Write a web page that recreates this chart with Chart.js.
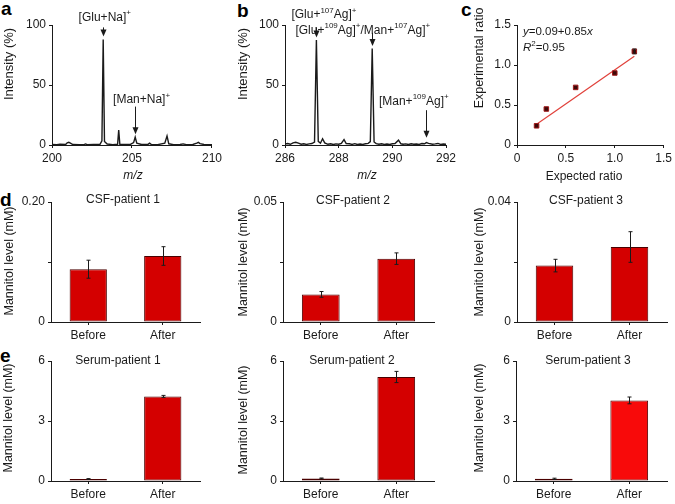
<!DOCTYPE html>
<html>
<head>
<meta charset="utf-8">
<script src="https://cdn.jsdelivr.net/npm/chart.js@4.4.1/dist/chart.umd.min.js"></script>
<style>
  html, body { margin: 0; padding: 0; background: #fff; }
  #fig { position: relative; width: 675px; height: 504px; overflow: hidden; font-family: "Liberation Sans", Arial, sans-serif; }
  #fig canvas { position: absolute; }
  .tag { position: absolute; font-weight: bold; font-size: 19px; line-height: 1; color: #000; }
</style>
</head>
<body>
<div id="fig">
  <div class="tag" style="left:1px;top:-1px">a</div>
  <div class="tag" style="left:237px;top:1px">b</div>
  <div class="tag" style="left:461px;top:0px">c</div>
  <div class="tag" style="left:0px;top:190px">d</div>
  <div class="tag" style="left:0px;top:346px">e</div>
</div>
<script>
// --- spectrum a: [Glu/Man + Na]+ region
const mzA = [200.0, 200.3, 200.5, 200.85, 200.95, 201.05, 201.15, 201.3, 201.7, 202.0, 202.1, 202.2, 202.6,
  203.0, 203.12, 203.2, 203.28, 203.45, 203.8, 204.1, 204.17, 204.24, 204.5, 204.9, 205.1, 205.2, 205.3,
  205.6, 206.0, 206.1, 206.2, 206.6, 207.05, 207.19, 207.3, 207.6, 208.0, 208.2, 208.4, 208.8, 209.05,
  209.15, 209.25, 209.5, 210.0];
const intA = [0.4, 0.3, 0.6, 0.4, 1.8, 2.2, 1.6, 0.4, 0.3, 0.3, 0.9, 0.3, 0.4,
  0.6, 3.5, 88, 3.0, 0.8, 0.3, 0.6, 12.5, 0.6, 0.4, 0.5, 2.0, 6.5, 1.5,
  0.4, 0.5, 1.5, 0.5, 0.3, 1.5, 7.5, 1.0, 0.3, 0.4, 0.9, 0.3, 0.4, 1.5,
  2.2, 1.2, 0.4, 0.3];

// --- spectrum b: Ag adduct region
const mzB = [286.0, 286.1, 286.2, 286.3, 286.4, 286.5, 286.6, 286.7, 286.8, 286.9, 287.0, 287.1,
  287.17, 287.24, 287.32, 287.4, 287.48, 287.6, 287.7, 287.8, 287.9, 288.0, 288.1, 288.2, 288.28,
  288.4, 288.5, 288.6, 288.7, 288.8, 288.9, 289.0, 289.1, 289.18, 289.25, 289.32, 289.4, 289.5,
  289.6, 289.7, 289.8, 289.9, 290.0, 290.1, 290.23, 290.32, 290.4, 290.5, 290.6, 290.7, 290.8,
  290.9, 291.0, 291.1, 291.2, 291.27, 291.35, 291.5, 291.6, 291.7, 291.8, 291.9, 292.0];
const intB = [0.8, 1.2, 0.6, 1.8, 2.3, 1.5, 0.7, 1.0, 0.5, 0.9, 1.2, 2.5,
  87.5, 3.0, 1.5, 5.2, 1.8, 0.6, 1.0, 0.4, 0.9, 0.6, 1.3, 4.5, 1.2,
  1.0, 0.5, 1.1, 0.4, 0.8, 0.5, 1.0, 1.4, 2.8, 80.5, 2.5, 1.2, 0.6,
  1.0, 0.5, 0.8, 0.4, 1.0, 1.2, 4.0, 1.0, 0.6, 0.9, 0.4, 1.0, 0.6,
  0.8, 0.5, 1.2, 1.0, 2.0, 1.4, 0.6, 0.9, 1.3, 0.5, 0.8, 0.6];

// --- calibration (c)
const ratioExpected = [0.2, 0.3, 0.6, 1.0, 1.2];
const ratioMeasured = [0.24, 0.45, 0.72, 0.9, 1.17];
const ratioErr = [0, 0, 0, 0, 0.03];
const fitX = [0.2, 1.2];
const fitY = [0.26, 1.11];

// --- mannitol levels (d, e)
const groups = ['Before', 'After'];
const csf1 = [0.088, 0.110], csf1Err = [0.015, 0.0155];
const csf2 = [0.0115, 0.0264], csf2Err = [0.0012, 0.0024];
const csf3 = [0.0188, 0.025], csf3Err = [0.0021, 0.0051];
const serum1 = [0.1, 4.23], serum1Err = [0.02, 0.05];
const serum2 = [0.13, 5.2], serum2Err = [0.02, 0.28];
const serum3 = [0.11, 4.03], serum3Err = [0.03, 0.17];
const csfMax = [0.20, 0.05, 0.04];
const serumMax = 6;

const FONT = '"Liberation Sans", Arial, sans-serif';
const INK = '#1a1a1a';
Chart.defaults.font.family = FONT;
Chart.defaults.font.size = 12;
Chart.defaults.color = INK;
Chart.defaults.animation = false;

const zip = (xs, ys) => xs.map((x, i) => ({ x, y: ys[i] }));
const T = t => ({ t }), S = t => ({ t, sup: true }), I = t => ({ t, it: true });

function fontFor(p, size) {
  return (p.it ? 'italic ' : '') + (p.sup ? Math.round(size * 0.66) : size) + 'px ' + FONT;
}

function drawParts(ctx, parts, x, y, size, align) {
  let w = 0;
  parts.forEach(p => { ctx.font = fontFor(p, size); w += ctx.measureText(p.t).width; });
  let cx = align === 'left' ? x : x - w / 2;
  ctx.textAlign = 'left';
  ctx.textBaseline = 'middle';
  parts.forEach(p => {
    ctx.font = fontFor(p, size);
    ctx.fillText(p.t, cx, p.sup ? y - size * 0.38 : y);
    cx += ctx.measureText(p.t).width;
  });
}

function arrow(ctx, x, y1, y2) {
  x = Math.round(x) + 0.5;
  ctx.lineWidth = 1;
  ctx.beginPath(); ctx.moveTo(x, y1); ctx.lineTo(x, y2 - 4); ctx.stroke();
  ctx.beginPath(); ctx.moveTo(x, y2); ctx.lineTo(x - 3, y2 - 7); ctx.lineTo(x + 3, y2 - 7); ctx.closePath(); ctx.fill();
}

// titles, annotations, error bars
const decor = {
  id: 'decor',
  afterDraw(chart, args, o) {
    if (!o.box) return;
    const ctx = chart.ctx, xs = chart.scales.x, ys = chart.scales.y;
    const ox = o.box.l, oy = o.box.t;
    ctx.save();
    ctx.fillStyle = INK;
    ctx.strokeStyle = INK;

    if (o.errors) {
      const meta = chart.getDatasetMeta(0);
      const ds = chart.data.datasets[0];
      meta.data.forEach((el, i) => {
        const e = o.errors[i];
        if (!e) return;
        const v = typeof ds.data[i] === 'object' ? ds.data[i].y : ds.data[i];
        const x = Math.round(el.x) + 0.5;
        const y1 = ys.getPixelForValue(v - e), y2 = ys.getPixelForValue(v + e);
        ctx.lineWidth = 1;
        ctx.beginPath();
        ctx.moveTo(x, y1); ctx.lineTo(x, y2);
        ctx.moveTo(x - 2, y1); ctx.lineTo(x + 2, y1);
        ctx.moveTo(x - 2, y2); ctx.lineTo(x + 2, y2);
        ctx.stroke();
      });
    }

    (o.arrows || []).forEach(a => {
      arrow(ctx, xs.getPixelForValue(a.mz), ys.getPixelForValue(a.from), ys.getPixelForValue(a.to));
    });
    (o.notes || []).forEach(n => {
      drawParts(ctx, n.parts, xs.getPixelForValue(n.at[0]), ys.getPixelForValue(n.at[1]), 12, 'center');
    });
    (o.texts || []).forEach(t => {
      const x = t.pos[0] - ox, y = t.pos[1] - oy;
      if (t.rot) {
        ctx.save();
        ctx.translate(x, y);
        ctx.rotate(-Math.PI / 2);
        drawParts(ctx, t.parts, 0, 0, t.size || 12.5, 'center');
        ctx.restore();
      } else {
        drawParts(ctx, t.parts, x, y, t.size || 12, t.align || 'center');
      }
    });
    ctx.restore();
  }
};
Chart.register(decor);

function makeChart(box, plot, type, datasets, labels, xOpt, yOpt, deco) {
  const c = document.createElement('canvas');
  c.width = box.w; c.height = box.h;
  c.style.left = box.l + 'px'; c.style.top = box.t + 'px';
  c.style.width = box.w + 'px'; c.style.height = box.h + 'px';
  document.getElementById('fig').appendChild(c);

  const grid = { display: true, drawOnChartArea: false, drawTicks: true, tickLength: 3, color: INK, lineWidth: 1 };
  const x = Object.assign({}, xOpt, {
    grid: Object.assign({}, grid, xOpt.grid),
    border: { display: true, color: INK, width: 1 },
    ticks: Object.assign({ padding: 3, maxRotation: 0, autoSkip: false, color: INK }, xOpt.ticks),
    afterFit: s => { s.height = box.t + box.h - plot.b; }
  });
  const y = Object.assign({}, yOpt, {
    grid: Object.assign({}, grid),
    border: { display: true, color: INK, width: 1 },
    ticks: Object.assign({ padding: 3, color: INK }, yOpt.ticks),
    afterFit: s => { s.width = plot.l - box.l; }
  });
  deco.box = box;
  return new Chart(c, {
    type,
    data: { labels, datasets },
    options: {
      responsive: false,
      animation: false,
      layout: { padding: { left: 0, top: plot.t - box.t, right: box.l + box.w - plot.r, bottom: 0 } },
      scales: { x, y },
      plugins: { legend: { display: false }, tooltip: { enabled: false }, decor: deco }
    }
  });
}

// ---- a
makeChart({ l: 0, t: 0, w: 225, h: 190 }, { l: 52, t: 25, r: 212, b: 145 }, 'line',
  [{ data: zip(mzA, intA), borderColor: INK, borderWidth: 1.4, pointRadius: 0, tension: 0 }], undefined,
  { type: 'linear', min: 200, max: 210, ticks: { stepSize: 5 } },
  { min: 0, max: 100, ticks: { stepSize: 50 } },
  {
    arrows: [{ mz: 203.2, from: 98, to: 90.5 }, { mz: 205.2, from: 32, to: 9 }],
    notes: [
      { parts: [T('[Glu+Na]'), S('+')], at: [203.3, 106.5] },
      { parts: [T('[Man+Na]'), S('+')], at: [205.6, 37.5] }
    ],
    texts: [
      { parts: [T('Intensity (%)')], pos: [9, 64], rot: true, size: 13 },
      { parts: [I('m/z')], pos: [133, 176] }
    ]
  });

// ---- b
makeChart({ l: 225, t: 0, w: 240, h: 190 }, { l: 285, t: 25, r: 446, b: 145 }, 'line',
  [{ data: zip(mzB, intB), borderColor: INK, borderWidth: 1.4, pointRadius: 0, tension: 0 }], undefined,
  { type: 'linear', min: 286, max: 292, ticks: { stepSize: 2 } },
  { min: 0, max: 100, ticks: { stepSize: 50 } },
  {
    arrows: [{ mz: 287.17, from: 98, to: 89.5 }, { mz: 289.25, from: 93.5, to: 82.5 }, { mz: 291.27, from: 29, to: 6 }],
    notes: [
      { parts: [T('[Glu+'), S('107'), T('Ag]'), S('+')], at: [287.45, 108.3] },
      { parts: [T('[Glu+'), S('109'), T('Ag]'), S('+'), T('/Man+'), S('107'), T('Ag]'), S('+')], at: [288.9, 95.5] },
      { parts: [T('[Man+'), S('109'), T('Ag]'), S('+')], at: [290.8, 36.5] }
    ],
    texts: [
      { parts: [T('Intensity (%)')], pos: [243, 64], rot: true, size: 13 },
      { parts: [I('m/z')], pos: [367, 176] }
    ]
  });

// ---- c
const ratioTick = v => (v === 0 ? '0' : v.toFixed(1));
makeChart({ l: 450, t: 0, w: 225, h: 190 }, { l: 517, t: 25, r: 666, b: 145 }, 'scatter',
  [
    { data: zip(ratioExpected, ratioMeasured), pointStyle: 'rect', pointRadius: 3.2, backgroundColor: '#3d0808', borderColor: '#a01818', borderWidth: 1 },
    { data: zip(fitX, fitY), showLine: true, borderColor: '#e0403a', borderWidth: 1.2, pointRadius: 0 }
  ], undefined,
  { type: 'linear', min: 0, max: 1.5, ticks: { stepSize: 0.5, callback: ratioTick } },
  { min: 0, max: 1.5, ticks: { stepSize: 0.5, callback: ratioTick } },
  {
    errors: ratioErr,
    texts: [
      { parts: [I('y'), T('=0.09+0.85'), I('x')], pos: [523, 32], align: 'left', size: 11.5 },
      { parts: [I('R'), S('2'), T('=0.95')], pos: [523, 48], align: 'left', size: 11.5 },
      { parts: [T('Experimental ratio')], pos: [480, 58], rot: true, size: 12.5 },
      { parts: [T('Expected ratio')], pos: [584, 177] }
    ]
  });

// ---- d, e bars
function barPanel(box, plot, vals, errs, max, step, colors, title, titlePos, yTitlePos, fmt) {
  makeChart(box, plot, 'bar',
    [{ data: vals, backgroundColor: colors, borderColor: '#4a0000', borderWidth: 1, borderSkipped: false,
       barPercentage: 0.5, categoryPercentage: 1 }],
    groups,
    { grid: { offset: false } },
    { min: 0, max, ticks: { stepSize: step, callback: fmt } },
    {
      errors: errs,
      texts: [
        { parts: [T(title)], pos: titlePos },
        { parts: [T('Mannitol level (mM)')], pos: yTitlePos, rot: true }
      ]
    });
}
const csfFmt = max => v => (v === 0 ? '0' : Math.abs(v - max) < 1e-9 ? max.toFixed(2) : '');
const serumFmt = v => String(v);
const RED = '#d40000', DARK = '#5a0c0c';

barPanel({ l: 0, t: 190, w: 225, h: 155 }, { l: 51, t: 202, r: 200, b: 322 }, csf1, csf1Err, csfMax[0], csfMax[0] / 2,
  [RED, RED], 'CSF-patient 1', [123, 200], [10, 261], csfFmt(csfMax[0]));
barPanel({ l: 225, t: 190, w: 225, h: 155 }, { l: 283, t: 202, r: 434, b: 322 }, csf2, csf2Err, csfMax[1], csfMax[1] / 2,
  [RED, RED], 'CSF-patient 2', [353, 201], [244, 262], csfFmt(csfMax[1]));
barPanel({ l: 450, t: 190, w: 225, h: 155 }, { l: 517, t: 202, r: 667, b: 322 }, csf3, csf3Err, csfMax[2], csfMax[2] / 2,
  [RED, RED], 'CSF-patient 3', [586, 201], [480, 262], csfFmt(csfMax[2]));

barPanel({ l: 0, t: 345, w: 225, h: 159 }, { l: 51, t: 361, r: 200, b: 481 }, serum1, serum1Err, serumMax, 3,
  [DARK, RED], 'Serum-patient 1', [118, 361], [9, 418], serumFmt);
barPanel({ l: 225, t: 345, w: 225, h: 159 }, { l: 283, t: 361, r: 434, b: 481 }, serum2, serum2Err, serumMax, 3,
  [DARK, RED], 'Serum-patient 2', [352, 361], [244, 420], serumFmt);
barPanel({ l: 450, t: 345, w: 225, h: 159 }, { l: 516, t: 361, r: 667, b: 481 }, serum3, serum3Err, serumMax, 3,
  [DARK, '#f80a0a'], 'Serum-patient 3', [588, 361], [480, 418], serumFmt);
</script>
</body>
</html>
